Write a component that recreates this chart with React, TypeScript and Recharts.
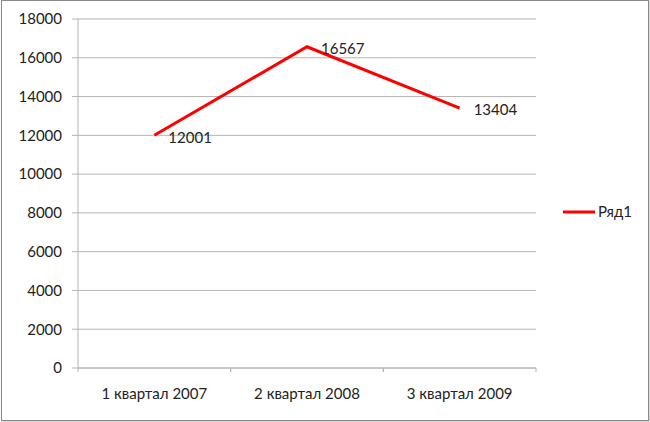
import React from "react";
import { LineChart, Line, XAxis, YAxis, CartesianGrid, Legend, LabelList } from "recharts";

const categories = ["1 квартал 2007", "2 квартал 2008", "3 квартал 2009"];
const values = [12001, 16567, 13404];
const yTicks = [0, 2000, 4000, 6000, 8000, 10000, 12000, 14000, 16000, 18000];
const seriesName = "Ряд1";

const data = categories.map((c, i) => ({ name: c, value: values[i] }));

const FONT = "Lato, 'Open Sans', sans-serif";
const GRID = "#b4b4b4";
const TICK_GAP = 20;

function ValueLabel(props: any) {
  const { x, y, value } = props;
  return (
    <text x={x + 14} y={y + 2} dy="0.35em" fontSize={15} fontFamily={FONT} fill="#222" textAnchor="start">
      {value}
    </text>
  );
}

// category label in the middle, small marks on the band edges
function CategoryTick(props: any) {
  const { x, y, payload } = props;
  const half = payload.offset || 0;
  const axisY = y - TICK_GAP;
  return (
    <g>
      <line x1={x - half} x2={x - half} y1={axisY} y2={axisY + 4} stroke={GRID} />
      <line x1={x + half} x2={x + half} y1={axisY} y2={axisY + 4} stroke={GRID} />
      <text x={x} y={y} dy="0.71em" textAnchor="middle" fontSize={15} fontFamily={FONT} fill="#222">
        {payload.value}
      </text>
    </g>
  );
}

function LegendBox() {
  return (
    <svg width={80} height={20}>
      <line x1={3} y1={10} x2={35} y2={10} stroke="#ff0000" strokeWidth={3} />
      <text x={38} y={10} dy="0.35em" fontSize={15} fontFamily={FONT} fill="#222">
        {seriesName}
      </text>
    </svg>
  );
}

export default function App() {
  return (
    <div style={{ position: "absolute", left: 0, top: 0, width: 650, height: 422, background: "#fff" }}>
      <div
        style={{
          position: "absolute",
          left: 1,
          top: 0,
          width: 646,
          height: 419,
          border: "1px solid #8a8a8a",
          boxShadow: "1px 1px 2px rgba(0,0,0,0.25)",
        }}
      />
      <LineChart width={650} height={422} data={data} margin={{ top: 19, right: 34, bottom: 0, left: 0 }}>
        <CartesianGrid vertical={false} stroke={GRID} />
        <XAxis
          dataKey="name"
          scale="band"
          height={54}
          tickLine={false}
          tickSize={0}
          tickMargin={TICK_GAP}
          axisLine={{ stroke: GRID }}
          tick={<CategoryTick />}
        />
        <YAxis
          width={78}
          domain={[0, 18000]}
          ticks={yTicks}
          tickSize={6}
          tickMargin={10}
          stroke={GRID}
          tick={{ fontSize: 15, fontFamily: FONT, fill: "#222" }}
        />
        <Legend
          layout="horizontal"
          verticalAlign="middle"
          align="right"
          wrapperStyle={{ left: 560, top: 202, width: 80, height: 20 }}
          content={() => <LegendBox />}
        />
        <Line
          type="linear"
          dataKey="value"
          name={seriesName}
          stroke="#ff0000"
          strokeWidth={3}
          dot={false}
          activeDot={false}
          isAnimationActive={false}
        >
          <LabelList dataKey="value" content={<ValueLabel />} />
        </Line>
      </LineChart>
    </div>
  );
}
